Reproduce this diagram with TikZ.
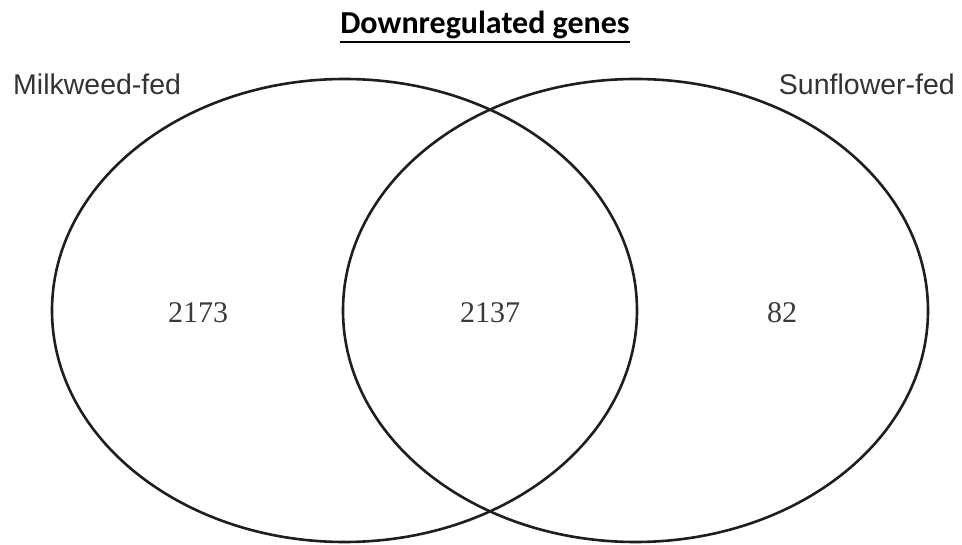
\documentclass[tikz,border=0pt]{standalone}
\usepackage{fontspec}
\usetikzlibrary{shapes.geometric}
\setmainfont{Liberation Serif}
\newfontfamily\titlefont{Carlito}
\newfontfamily\labelfont{Liberation Sans}
\definecolor{linecol}{HTML}{1E1E1E}
\definecolor{numcol}{HTML}{3A3A3A}
\definecolor{labcol}{HTML}{333333}
\begin{document}
\begin{tikzpicture}[x=1pt,y=-1pt,
  setline/.style={draw=linecol, line width=2.6pt, shape=ellipse, minimum width=585pt, minimum height=463pt, inner sep=0pt},
  numlabel/.style={font=\fontsize{30}{32}\selectfont, text=numcol, inner sep=0pt},
  setlabel/.style={font=\labelfont\fontsize{28.5}{31}\selectfont, text=labcol, inner sep=0pt},
  titlelabel/.style={font=\titlefont\bfseries\fontsize{32}{35}\selectfont, inner sep=0pt}]
\useasboundingbox (0,0) rectangle (962,545);
\fill[white] (0,0) rectangle (962,545);
\node[setline] (milk) at (344.5,310.5) {};
\node[setline] (sun) at (635.5,310.5) {};
\node[titlelabel, anchor=base] (title) at (485,34) {Downregulated genes};
\coordinate (ul1) at ([yshift=-8pt]title.base west);
\coordinate (ul2) at ([yshift=-8pt]title.base east);
\draw[line width=2.3pt] (ul1) -- (ul2);
\node[setlabel, anchor=base west] (milklab) at (13,95) {Milkweed-fed};
\node[setlabel, anchor=base east] (sunlab) at (955,95) {Sunflower-fed};
\node[numlabel] (a) at (198,313) {2173};
\node[numlabel] (b) at (490,313) {2137};
\node[numlabel] (c) at (782,313) {82};
\end{tikzpicture}
\end{document}
